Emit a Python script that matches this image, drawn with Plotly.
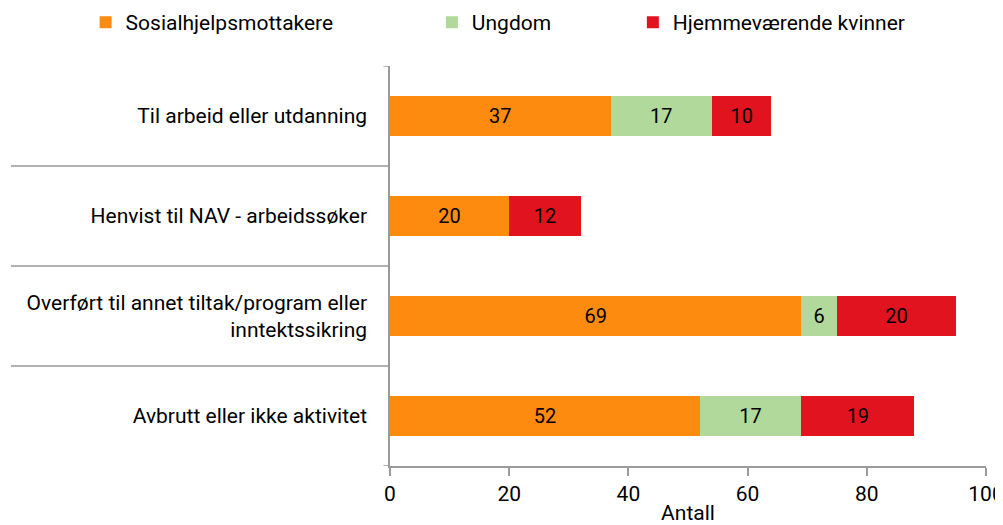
import plotly.graph_objects as go

categories = ["Til arbeid eller utdanning",
              "Henvist til NAV - arbeidssøker",
              "Overført til annet tiltak/program eller<br>inntektssikring",
              "Avbrutt eller ikke aktivitet"]
sosial = [37, 20, 69, 52]
ungdom = [17, None, 6, 17]
kvinner = [10, 12, 20, 19]
series_names = ["Sosialhjelpsmottakere", "Ungdom", "Hjemmeværende kvinner"]
colors = ["#FD8B0F", "#B0D99B", "#E0131F"]
x_ticks = [0, 20, 40, 60, 80, 100]

FONT = "Roboto, sans-serif"
FS = 21
fig = go.Figure()
legends = ["legend2", "legend3", "legend4"]
for name, vals, col, lg in zip(series_names, [sosial, ungdom, kvinner], colors, legends):
    fig.add_trace(go.Bar(
        y=categories, x=vals, name=name, orientation="h",
        marker=dict(color=col, line=dict(width=0)),
        text=[("" if v is None else str(v)) for v in vals],
        textposition="inside", insidetextanchor="middle",
        textfont=dict(family=FONT, size=20, color="#000000"),
        width=0.4, legend=lg,
    ))

# separators between categories (long category ticks)
for i in range(len(categories) - 1):
    fig.add_shape(type="line", xref="paper", yref="y",
                  x0=-0.636, x1=0, y0=i + 0.5, y1=i + 0.5,
                  line=dict(color="#9a9a9a", width=1.5))
# short boundary ticks at both ends of the category axis
for yb in (-0.5, len(categories) - 0.5):
    fig.add_shape(type="line", xref="paper", yref="y",
                  x0=-0.011, x1=0, y0=yb, y1=yb,
                  line=dict(color="#9a9a9a", width=1.5))

leg_common = dict(orientation="h", yanchor="middle", xanchor="left",
                  font=dict(family=FONT, size=FS, color="#000000"),
                  bgcolor="rgba(0,0,0,0)", itemwidth=30, tracegroupgap=0,
                  xref="container", yref="container")
fig.update_layout(
    width=995, height=517,
    margin=dict(l=382, r=17, t=58, b=59, autoexpand=False),
    paper_bgcolor="white", plot_bgcolor="white",
    barmode="stack", bargap=0.6, showlegend=True,
    font=dict(family=FONT, size=FS, color="#000000"),
    legend2=dict(leg_common, x=0.078, y=0.972),
    legend3=dict(leg_common, x=0.426, y=0.972),
    legend4=dict(leg_common, x=0.628, y=0.972),
    xaxis=dict(range=[0, 100], tickvals=x_ticks, showgrid=False, automargin=False,
               showline=True, linecolor="#9a9a9a", linewidth=1.5,
               ticks="outside", ticklen=8, tickcolor="#9a9a9a", tickwidth=1.5,
               tickfont=dict(family=FONT, size=FS), ticklabeloverflow="allow",
               title=dict(text="Antall", standoff=3, font=dict(family=FONT, size=FS)),
               zeroline=False),
    yaxis=dict(showgrid=False, showline=True, automargin=False,
               linecolor="#9a9a9a", linewidth=1.5, ticks="",
               tickfont=dict(family=FONT, size=FS), ticklabelstandoff=17,
               range=[3.5, -0.5]),
    uniformtext=dict(mode="show", minsize=12),
)
fig.write_html("out.html")
